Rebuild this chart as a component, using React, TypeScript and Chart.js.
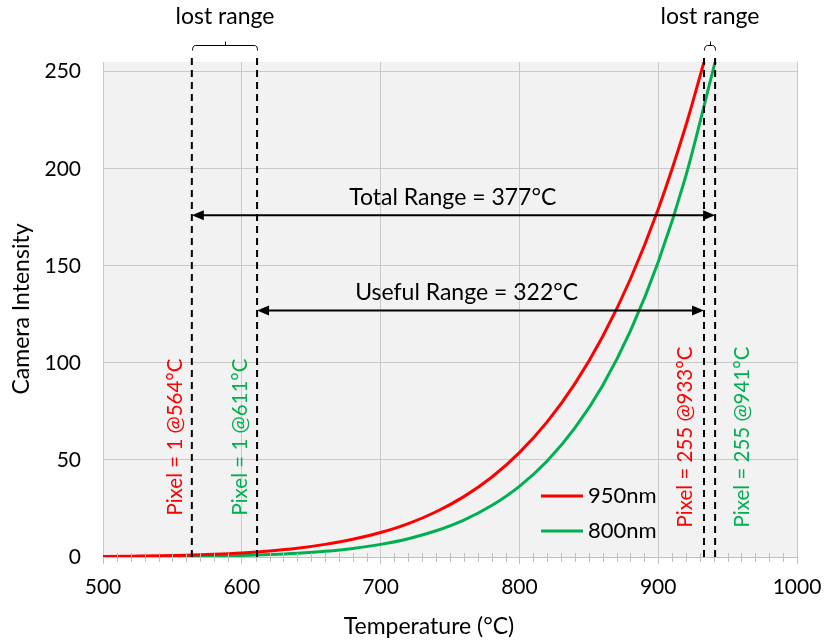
import React, { useEffect, useRef } from "react";
import { Chart, registerables } from "chart.js";
Chart.register(...registerables);

const FONT = "Lato, 'Open Sans', sans-serif";

// Temperature (°C) sample points and camera intensity
const temps950 = [500, 520, 540, 560, 580, 600, 620, 640, 660, 680, 700, 720, 740, 760, 780, 800, 820, 840, 860, 880, 900, 920, 933];
const vals950 = [0.2, 0.4, 0.6, 0.9, 1.4, 2.1, 3.1, 4.5, 6.5, 9.1, 12.6, 17.2, 23.3, 31.1, 41.1, 53.8, 69.6, 89.3, 113.6, 143.2, 179.1, 222.4, 255];
const temps800 = [500, 520, 540, 560, 580, 600, 620, 640, 660, 680, 700, 720, 740, 760, 780, 800, 820, 840, 860, 880, 900, 920, 941];
const vals800 = [0.05, 0.1, 0.17, 0.29, 0.48, 0.78, 1.24, 1.93, 2.94, 4.41, 6.5, 9.43, 13.5, 19.0, 26.5, 36.4, 49.5, 66.5, 88.4, 116.5, 152.0, 196.5, 255];

const seriesNames = ["950nm", "800nm"];
const seriesColors = ["#ff0000", "#00b050"];

const yTicks = [0, 50, 100, 150, 200, 250];

// Threshold markers
const markerTemps = [564, 611, 933, 941];
const markerLabels = ["Pixel = 1 @564°C", "Pixel = 1 @611°C", "Pixel = 255 @933°C", "Pixel = 255 @941°C"];
const markerColors = ["#ff0000", "#00b050", "#ff0000", "#00b050"];

// Range arrows
const rangeLabels = ["Total Range = 377°C", "Useful Range = 322°C"];
const rangeFrom = [564, 611];
const rangeTo = [941, 933];
const rangeLevel = [176, 127];
const rangeTextCenter = [752, 762];

const lostRangeLabel = "lost range";
const lostRanges = [[564, 611], [933, 941]];

const xTitle = "Temperature (°C)";
const yTitle = "Camera Intensity";

export default function App() {
  const ref = useRef<HTMLCanvasElement>(null);
  useEffect(() => {
    const ctx = ref.current!.getContext("2d")!;
    const annot = {
      id: "annot",
      beforeDraw(chart: any) {
        const c = chart.ctx;
        const a = chart.chartArea;
        c.save();
        c.fillStyle = "#ffffff";
        c.fillRect(0, 0, chart.width, chart.height);
        c.fillStyle = "#f2f2f2";
        c.fillRect(a.left, a.top, a.right - a.left, a.bottom - a.top);
        c.restore();
      },
      afterDraw(chart: any) {
        const c = chart.ctx;
        const a = chart.chartArea;
        const xs = chart.scales.x;
        const ys = chart.scales.y;
        c.save();
        // minor ticks
        c.strokeStyle = "#bfbfbf";
        c.lineWidth = 1;
        for (let t = 510; t < 1000; t += 10) {
          if (t % 100 === 0) continue;
          const px = Math.round(xs.getPixelForValue(t)) + 0.5;
          c.beginPath();
          c.moveTo(px, a.bottom - 4);
          c.lineTo(px, a.bottom + 5);
          c.stroke();
        }
        // dashed marker lines
        c.strokeStyle = "#000";
        c.lineWidth = 2;
        c.setLineDash([7, 5]);
        markerTemps.forEach((t) => {
          const px = xs.getPixelForValue(t);
          c.beginPath();
          c.moveTo(px, a.bottom);
          c.lineTo(px, a.top - 5);
          c.stroke();
        });
        c.setLineDash([]);
        // marker labels
        c.font = `20.5px ${FONT}`;
        c.textAlign = "center";
        c.textBaseline = "middle";
        const labelDx = [-16, -17, -19, 27];
        markerTemps.forEach((t, i) => {
          const px = xs.getPixelForValue(t) + labelDx[i];
          c.save();
          c.translate(px, 437);
          c.rotate(-Math.PI / 2);
          c.fillStyle = markerColors[i];
          c.fillText(markerLabels[i], 0, 0);
          c.restore();
        });
        // range arrows
        c.fillStyle = "#000";
        c.strokeStyle = "#000";
        c.lineWidth = 2;
        rangeLabels.forEach((lab, i) => {
          const x1 = xs.getPixelForValue(rangeFrom[i]);
          const x2 = xs.getPixelForValue(rangeTo[i]);
          const y = ys.getPixelForValue(rangeLevel[i]);
          const hl = 12, hw = 5;
          c.beginPath();
          c.moveTo(x1 + hl - 1, y);
          c.lineTo(x2 - hl + 1, y);
          c.stroke();
          c.beginPath();
          c.moveTo(x1, y);
          c.lineTo(x1 + hl, y - hw);
          c.lineTo(x1 + hl, y + hw);
          c.closePath();
          c.fill();
          c.beginPath();
          c.moveTo(x2, y);
          c.lineTo(x2 - hl, y - hw);
          c.lineTo(x2 - hl, y + hw);
          c.closePath();
          c.fill();
          c.font = `23px ${FONT}`;
          c.textAlign = "center";
          c.textBaseline = "middle";
          c.fillText(lab, xs.getPixelForValue(rangeTextCenter[i]), y - 18);
        });
        // lost range brackets
        c.lineWidth = 1;
        lostRanges.forEach(([t1, t2]) => {
          const x1 = Math.round(xs.getPixelForValue(t1)) + 0.5;
          const x2 = Math.round(xs.getPixelForValue(t2)) + 0.5;
          const xm = Math.round((x1 + x2) / 2) + 0.5;
          const y = 45.5;
          c.beginPath();
          c.moveTo(x1, y + 5);
          c.quadraticCurveTo(x1, y, x1 + 3, y);
          c.lineTo(x2 - 3, y);
          c.quadraticCurveTo(x2, y, x2, y + 5);
          c.moveTo(xm, y);
          c.lineTo(xm, y - 4);
          c.stroke();
          c.font = `23px ${FONT}`;
          c.textAlign = "center";
          c.textBaseline = "middle";
          c.fillText(lostRangeLabel, (x1 + x2) / 2, 17);
        });
        // legend
        c.font = `22px ${FONT}`;
        c.textAlign = "left";
        c.textBaseline = "middle";
        seriesNames.forEach((n, i) => {
          const y = 496 + i * 35;
          c.strokeStyle = seriesColors[i];
          c.lineWidth = 3;
          c.beginPath();
          c.moveTo(541, y);
          c.lineTo(583, y);
          c.stroke();
          c.fillStyle = "#000";
          c.fillText(n, 588, y);
        });
        // axis titles
        c.fillStyle = "#000";
        c.font = `23px ${FONT}`;
        c.textAlign = "center";
        c.fillText(xTitle, 429, 627);
        c.save();
        c.translate(22, 309);
        c.rotate(-Math.PI / 2);
        c.fillText(yTitle, 0, 0);
        c.restore();
        c.restore();
      },
    };
    const chart = new Chart(ctx, {
      type: "line",
      data: {
        datasets: [
          {
            label: seriesNames[0],
            data: temps950.map((t, i) => ({ x: t, y: vals950[i] })),
            borderColor: seriesColors[0],
            borderWidth: 3,
            pointRadius: 0,
            cubicInterpolationMode: "monotone",
          },
          {
            label: seriesNames[1],
            data: temps800.map((t, i) => ({ x: t, y: vals800[i] })),
            borderColor: seriesColors[1],
            borderWidth: 3,
            pointRadius: 0,
            cubicInterpolationMode: "monotone",
          },
        ],
      },
      options: {
        responsive: false,
        animation: false,
        devicePixelRatio: 1,
        layout: { padding: { left: 0, right: 28, top: 62, bottom: 0 } },
        plugins: { legend: { display: false }, tooltip: { enabled: false } },
        scales: {
          x: {
            type: "linear",
            min: 500,
            max: 1000,
            ticks: {
              stepSize: 100,
              color: "#000",
              font: { family: FONT, size: 21 },
              padding: 11,
              maxRotation: 0,
              callback: (v: any) => String(v),
            },
            grid: { color: "#c9c9c9", tickColor: "#bfbfbf", tickLength: 7 },
            border: { color: "#bfbfbf" },
            afterFit: (s: any) => { s.height = 86; s.paddingLeft = 0; s.paddingRight = 0; },
          },
          y: {
            min: 0,
            max: 255,
            ticks: { color: "#000", font: { family: FONT, size: 21 }, padding: 22, callback: (v: any) => String(v) },
            grid: { color: "#c9c9c9", drawTicks: false },
            border: { display: false },
            afterBuildTicks: (s: any) => { s.ticks = yTicks.map((v) => ({ value: v })); },
            afterFit: (s: any) => { s.width = 103; s.paddingTop = 0; s.paddingBottom = 0; },
          },
        },
      },
      plugins: [annot],
    } as any);
    return () => chart.destroy();
  }, []);
  return (
    <div style={{ position: "absolute", left: 0, top: 0, width: 825, height: 643, background: "#fff" }}>
      <canvas ref={ref} width={825} height={643} style={{ display: "block" }} />
    </div>
  );
}
